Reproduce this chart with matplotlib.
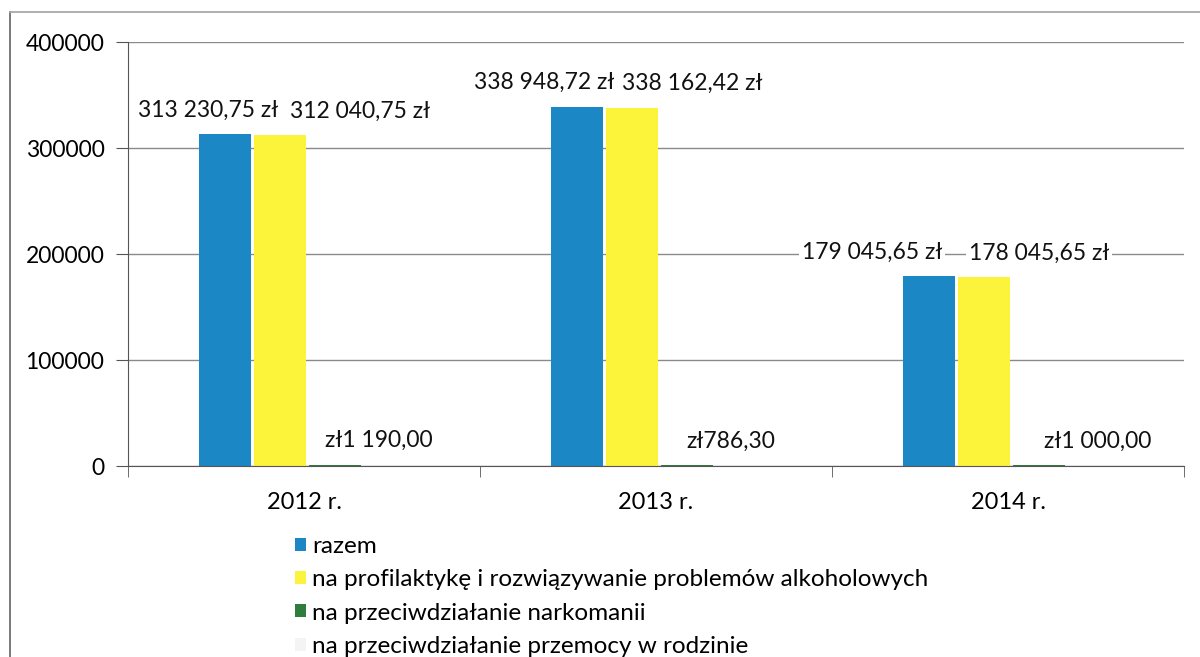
import numpy as np
import matplotlib.pyplot as plt
from matplotlib.patches import Rectangle
from matplotlib.lines import Line2D

plt.rcParams['font.family'] = ['Lato', 'DejaVu Sans']

# data
years = ['2012 r.', '2013 r.', '2014 r.']
series_names = ['razem',
                'na profilaktykę i rozwiązywanie problemów alkoholowych',
                'na przeciwdziałanie narkomanii',
                'na przeciwdziałanie przemocy w rodzinie']
razem = [313230.75, 338948.72, 179045.65]
alkohol = [312040.75, 338162.42, 178045.65]
narkomania = [1190.00, 786.30, 1000.00]
przemoc = [0.0, 0.0, 0.0]
labels_razem = ['313 230,75 zł', '338 948,72 zł', '179 045,65 zł']
labels_alkohol = ['312 040,75 zł', '338 162,42 zł', '178 045,65 zł']
labels_narkomania = ['zł1 190,00', 'zł786,30', 'zł1 000,00']

colors = ['#1b87c4', '#fbf43a', '#2e7d3c', '#f4f4f4']
# label offsets (pixels) relative to bar tops, as placed in the original
label_dx = [[-17, -33, -57], [80, 60, 55], [44, 44, 59]]
label_dy = 24

fig = plt.figure(figsize=(12, 6.57), dpi=100)
ax = fig.add_axes([0.1067, 0.2907, 0.880, 0.6453])

x = np.arange(len(years))
width = 0.148
step = 0.156
values = [razem, alkohol, narkomania, przemoc]
bars = []
for i, vals in enumerate(values):
    b = ax.bar(x + (i - 1.5) * step + 0.01, vals, width, color=colors[i],
               label=series_names[i], zorder=2)
    bars.append(b)

# data labels
for si, labs in enumerate([labels_razem, labels_alkohol, labels_narkomania]):
    for gi, rect in enumerate(bars[si]):
        cx = rect.get_x() + rect.get_width() / 2
        ax.annotate(labs[gi], xy=(cx, rect.get_height()),
                    xytext=(label_dx[si][gi], label_dy), textcoords='offset pixels',
                    ha='center', va='center', fontsize=16.5, color='#111111',
                    bbox=dict(boxstyle='square,pad=0.12', fc='white', ec='none'),
                    zorder=5)

ax.set_xlim(-0.5, 2.5)
ax.set_ylim(0, 400000)
ax.set_yticks(np.arange(0, 400001, 100000))
ax.set_yticklabels([str(v) for v in range(0, 400001, 100000)])
ax.yaxis.grid(True, color='#8a8a8a', linewidth=1.0)
ax.set_axisbelow(True)
ax.set_xticks(x)
ax.set_xticklabels(years)
ax.set_xticks([-0.5, 0.5, 1.5, 2.5], minor=True)
ax.tick_params(axis='x', which='major', length=0, pad=18.5, labelsize=17)
ax.tick_params(axis='x', which='minor', length=8, direction='out', color='#555555')
ax.tick_params(axis='y', length=9, direction='out', color='#555555', pad=8, labelsize=16.5)

for s in ['top', 'right']:
    ax.spines[s].set_visible(False)
ax.spines['left'].set_color('#555555')
ax.spines['bottom'].set_color('#555555')

# legend below
handles = [Rectangle((0, 0), 1, 1, fc=c, ec='none') for c in colors]
fig.legend(handles, series_names, loc='upper left', bbox_to_anchor=(0.238, 0.1986),
           frameon=False, fontsize=17.5, handlelength=0.45, handleheight=0.45,
           handletextpad=0.25, labelspacing=0.5, borderaxespad=0)

# outer chart border (left and top edges visible)
fig.add_artist(Line2D([0.0083, 0.0083], [0.0, 0.982], transform=fig.transFigure,
                      color='#6f6f6f', lw=1.3))
fig.add_artist(Line2D([0.0083, 1.0], [0.982, 0.982], transform=fig.transFigure,
                      color='#a8a8a8', lw=1.3))

fig.savefig('out.png', dpi=100)
